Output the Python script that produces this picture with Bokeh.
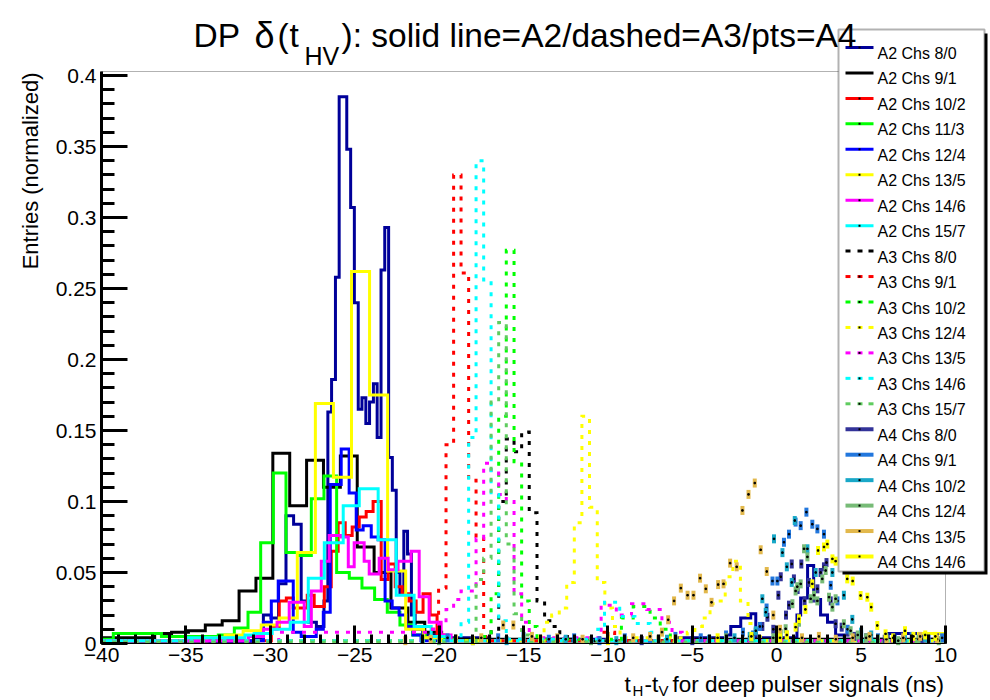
import math
from bokeh.plotting import figure
from bokeh.models import Label, FixedTicker, Range1d, BoxAnnotation
from bokeh.embed import file_html
from bokeh.resources import INLINE

FONT = "Liberation Sans"

# ---------------- axis ticks ----------------
x_ticks = [-40, -35, -30, -25, -20, -15, -10, -5, 0, 5, 10]
x_tick_labels = ["\u221240", "\u221235", "\u221230", "\u221225", "\u221220", "\u221215",
                 "\u221210", "\u22125", "0", "5", "10"]
x_minor_ticks = list(range(-40, 11))
y_ticks = [0, 0.05, 0.1, 0.15, 0.2, 0.25, 0.3, 0.35, 0.4]
y_tick_labels = ["0", "0.05", "0.1", "0.15", "0.2", "0.25", "0.3", "0.35", "0.4"]
y_minor_ticks = [round(0.01 * i, 2) for i in range(41)]
x_axis_range = (-40, 10)
y_axis_range = (0, 0.40282)

# ---------------- A2 histograms (solid) : bin edges (ns) / normalized entries ----------------
a2_8_0_edges = [-40, -30.86, -30.41, -29.96, -29.51, -29.07, -28.62, -28.17, -27.72, -27.27, -26.82,
                -26.59, -26.37, -26.14, -25.92, -25.47, -25.24, -25.02, -24.79, -24.57, -24.34, -24.12,
                -23.89, -23.67, -23.44, -23.22, -22.99, -22.77, -22.54, -22.32, -22.09, -21.87, -21.64,
                -21.42, -20.97, -19.88, -17.0, -14.0, -10.0, -6.0, -3.0, -2.72, -2.13, -1.54, -1.24,
                1.2, 1.42, 1.83, 2.19, 2.6, 3.01, 3.49, 4.0, 6.6, 8.9, 10]
a2_8_0_vals = [0.001, 0.004, 0.02, 0.018, 0.042, 0.09, 0.084, 0.03, 0.015, 0.012, 0.03, 0.163, 0.186,
               0.258, 0.385, 0.348, 0.307, 0.24, 0.165, 0.173, 0.155, 0.17, 0.183, 0.145, 0.263, 0.293,
               0.131, 0.108, 0.05, 0.035, 0.079, 0.063, 0.02, 0.01, 0.006, 0.004, 0.002, 0.003, 0.002,
               0.004, 0.006, 0.012, 0.018, 0.021, 0.004, 0.02, 0.032, 0.055, 0.031, 0.02, 0.015, 0.006,
               0.003, 0.007, 0.003]

a2_9_1_edges = [-40, -36.85, -35.85, -34.85, -33.85, -32.85, -31.85, -30.85, -29.85, -28.85, -27.85,
                -26.85, -25.85, -24.85, -23.85, -22.85, -21.85, -20.85, -19.85, -12.0, -5.0, 10]
a2_9_1_vals = [0.004, 0.007, 0.008, 0.009, 0.013, 0.016, 0.037, 0.046, 0.134, 0.097, 0.129, 0.11,
               0.132, 0.068, 0.05, 0.025, 0.015, 0.008, 0.003, 0.002, 0.003]

a2_10_2_edges = [-40, -29.94, -29.47, -29.05, -28.64, -27.81, -27.4, -26.8, -26.39, -25.98, -25.56,
                 -25.15, -24.73, -24.32, -23.91, -23.43, -23.02, -22.6, -22.19, -21.78, -21.36, -20.95,
                 -20.53, -20.12, -19.7, 10]
a2_10_2_vals = [0.002, 0.012, 0.03, 0.032, 0.025, 0.034, 0.026, 0.04, 0.065, 0.085, 0.076, 0.082,
                0.089, 0.093, 0.1, 0.045, 0.056, 0.04, 0.035, 0.03, 0.022, 0.035, 0.02, 0.006, 0.002]

a2_11_3_edges = [-40, -39.3, -36.45, -33.08, -32.13, -31.32, -30.57, -29.82, -29.07, -28.32, -27.57,
                 -26.82, -26.07, -25.32, -24.57, -23.82, -23.07, -22.32, -21.57, -20.82, -19.0, 10]
a2_11_3_vals = [0.003, 0.007, 0.005, 0.006, 0.011, 0.022, 0.071, 0.12, 0.064, 0.062, 0.102, 0.118,
                0.05, 0.046, 0.039, 0.031, 0.022, 0.013, 0.006, 0.003, 0.002]

a2_12_4_edges = [-40, -30.41, -29.94, -29.53, -28.64, -28.17, -27.28, -26.86, -26.45, -25.8, -25.33,
                 -24.91, -24.5, -24.02, -23.61, -23.2, -22.78, -22.37, -21.95, -21.54, -21.07, 10]
a2_12_4_vals = [0.002, 0.015, 0.03, 0.044, 0.008, 0.005, 0.01, 0.022, 0.112, 0.137, 0.106, 0.08,
                0.083, 0.075, 0.073, 0.03, 0.025, 0.02, 0.012, 0.006, 0.002]

a2_13_5_edges = [-40, -33.75, -32.68, -31.61, -30.54, -29.47, -28.4, -27.33, -26.26, -25.19, -24.12,
                 -23.05, -21.98, -20.91, -19.84, 8.4, 10]
a2_13_5_vals = [0.002, 0.004, 0.006, 0.009, 0.013, 0.018, 0.064, 0.169, 0.117, 0.262, 0.175, 0.051,
                0.01, 0.004, 0.002, 0.007]

a2_14_6_edges = [-40, -31.3, -30.4, -29.6, -28.88, -27.99, -27.57, -26.98, -26.51, -25.8, -25.38,
                 -25.03, -24.44, -24.14, -23.55, -23.02, -22.43, -21.66, -21.18, -20.59, -19.88,
                 -19.29, 10]
a2_14_6_vals = [0.002, 0.005, 0.01, 0.015, 0.029, 0.012, 0.037, 0.058, 0.076, 0.075, 0.054, 0.071,
                0.058, 0.049, 0.06, 0.052, 0.058, 0.065, 0.033, 0.015, 0.006, 0.002]

a2_15_7_edges = [-40, -35.0, -31.5, -30.96, -29.89, -28.82, -27.75, -26.8, -25.68, -24.73, -23.61,
                 -22.54, -21.48, -20.47, -19.4, 10]
a2_15_7_vals = [0.002, 0.004, 0.006, 0.007, 0.01, 0.015, 0.046, 0.071, 0.097, 0.109, 0.073, 0.034,
                0.012, 0.005, 0.002]

# ---------------- A3 histograms (dashed) ----------------
a3_8_0_edges = [-40, -16.92, -16.47, -16.02, -15.56, -15.11, -14.66, -14.2, -13.75, -13.3, -12.85,
                -12.4, 10]
a3_8_0_vals = [0.002, 0.01, 0.1, 0.144, 0.135, 0.149, 0.092, 0.03, 0.016, 0.012, 0.005, 0.002]

a3_9_1_edges = [-40, -20.48, -20.03, -19.59, -19.14, -18.7, -18.25, -17.81, -17.36, -16.92, -10.5,
                -9.6, 10]
a3_9_1_vals = [0.002, 0.01, 0.039, 0.14, 0.33, 0.261, 0.115, 0.074, 0.005, 0.002, 0.008, 0.002]

a3_10_2_edges = [-40, -17.36, -16.92, -16.47, -16.02, -15.56, -15.11, -14.66, -14.2, -9.2, -8.5,
                 -7.5, -6.9, -6.3, 10]
a3_10_2_vals = [0.002, 0.005, 0.035, 0.16, 0.277, 0.128, 0.03, 0.012, 0.003, 0.018, 0.026, 0.018,
                0.01, 0.002]

a3_12_4_edges = [-40, -13.78, -13.33, -12.88, -12.44, -11.99, -11.54, -11.09, -10.63, -10.18, -9.73,
                 -9.28, -5.3, -4.85, -4.4, -3.95, -3.5, -3.05, -2.6, -2.15, -1.7, -1.25, -0.8, 10]
a3_12_4_vals = [0.002, 0.015, 0.02, 0.025, 0.043, 0.085, 0.16, 0.096, 0.043, 0.025, 0.012, 0.004,
                0.008, 0.012, 0.018, 0.028, 0.03, 0.047, 0.058, 0.03, 0.014, 0.005, 0.002]

a3_13_5_edges = [-40, -29.5, -20.48, -20.03, -19.59, -19.14, -18.7, -18.25, -17.81, -17.36, -16.92,
                 -16.47, -16.02, -15.56, -15.11, -14.66, -10.4, -9.5, -8.6, -7.7, -6.8, -6.2, -5.6, 10]
a3_13_5_vals = [0.002, 0.008, 0.01, 0.015, 0.024, 0.031, 0.037, 0.037, 0.074, 0.127, 0.12, 0.105,
                0.1, 0.035, 0.015, 0.004, 0.027, 0.02, 0.028, 0.024, 0.015, 0.008, 0.002]

a3_14_6_edges = [-40, -18.7, -18.25, -17.81, -17.36, -16.92, -16.47, -16.02, -10.6, -10.2, -9.3,
                 -8.4, -7.5, -6.6, 10]
a3_14_6_vals = [0.002, 0.015, 0.145, 0.34, 0.256, 0.105, 0.016, 0.003, 0.01, 0.029, 0.019, 0.014,
                0.008, 0.002]

a3_15_7_edges = [-40, -17.81, -17.36, -16.92, -16.47, -16.02, -15.56, -15.11, -14.66, 10]
a3_15_7_vals = [0.001, 0.045, 0.06, 0.17, 0.226, 0.07, 0.021, 0.006, 0.001]

# ---------------- A4 (points) : time (ns) / normalized entries ----------------
a4_8_0_t = [-8.0, -5.0, -3.0, -1.24, -0.85, -0.55, -0.2, 0.1, 0.24, 0.55, 0.73, 0.89, 1.02, 1.24,
            1.46, 1.65, 1.91, 2.21, 2.41, 2.6, 2.8, 2.95, 3.2, 3.49, 3.85, 4.2, 4.6, 5.3, 6.4, 7.5,
            8.6, 9.5]
a4_8_0_v = [0.002, 0.002, 0.003, 0.008, 0.012, 0.0185, 0.01, 0.034, 0.047, 0.02, 0.027, 0.056,
            0.0455, 0.038, 0.056, 0.03, 0.043, 0.032, 0.0385, 0.05, 0.054, 0.057, 0.03, 0.0139,
            0.0115, 0.008, 0.005, 0.004, 0.003, 0.005, 0.003, 0.004]

a4_9_1_t = [-21.0, -19.5, -18.0, -16.5, -15.0, -13.5, -12.0, -10.5, -9.0, -7.5, -6.0, -4.5, -3.0,
            -2.0, -1.4, -1.0, -0.6, -0.25, 0.04, 0.43, 0.73, 1.12, 1.42, 1.76, 2.11, 2.41, 2.8, 3.2,
            3.6, 4.2, 5.0, 6.0, 7.0, 8.0, 9.0, 9.8]
a4_9_1_v = [0.003, 0.004, 0.002, 0.004, 0.005, 0.003, 0.004, 0.002, 0.004, 0.003, 0.005, 0.004,
            0.006, 0.008, 0.006, 0.012, 0.025, 0.044, 0.044, 0.0713, 0.077, 0.0855, 0.083, 0.0925,
            0.084, 0.0807, 0.077, 0.041, 0.03, 0.01, 0.006, 0.004, 0.003, 0.005, 0.003, 0.004]

a4_10_2_t = [-19.0, -16.0, -12.5, -9.5, -6.5, -4.0, -2.5, -1.6, -1.24, -0.85, -0.65, -0.16, 0.34,
             0.6, 0.89, 1.07, 1.82, 2.31, 3.3, 3.98, 4.48, 5.0, 5.6, 6.5, 7.6, 8.8]
a4_10_2_v = [0.003, 0.002, 0.003, 0.002, 0.003, 0.003, 0.004, 0.005, 0.009, 0.0315, 0.022, 0.0737,
             0.064, 0.054, 0.043, 0.0866, 0.0667, 0.05, 0.05, 0.034, 0.017, 0.008, 0.006, 0.004,
             0.003, 0.004]

a4_12_4_t = [-20.0, -15.0, -11.0, -7.0, -3.0, -1.5, -0.2, 0.24, 0.53, 0.93, 1.12, 1.22, 1.32, 1.42,
             1.62, 1.82, 2.01, 2.21, 2.41, 2.7, 2.9, 3.1, 3.3, 3.49, 3.98, 4.38, 4.8, 5.3, 6.0, 7.2,
             8.4, 9.6]
a4_12_4_v = [0.002, 0.003, 0.002, 0.003, 0.004, 0.003, 0.004, 0.0068, 0.0104, 0.028, 0.037, 0.04,
             0.015, 0.042, 0.0667, 0.061, 0.0315, 0.034, 0.03, 0.0455, 0.0514, 0.0326, 0.0256,
             0.0315, 0.0139, 0.009, 0.006, 0.004, 0.003, 0.002, 0.003, 0.002]

a4_13_5_t = [-22.0, -20.5, -19.0, -17.5, -16.2, -15.6, -14.5, -13.0, -11.5, -10.0, -8.5, -7.5, -6.8,
             -6.43, -6.08, -5.68, -5.28, -4.93, -4.54, -4.2, -3.86, -3.47, -3.15, -2.76, -2.37,
             -2.03, -1.67, -1.3, -0.95, -0.59, -0.2, 0.2, 0.6, 1.5, 2.5, 3.5, 4.5, 5.5, 6.5, 7.5,
             8.5, 9.5]
a4_13_5_v = [0.002, 0.003, 0.003, 0.004, 0.013, 0.013, 0.005, 0.004, 0.003, 0.005, 0.004, 0.005,
             0.008, 0.0167, 0.03, 0.039, 0.034, 0.034, 0.046, 0.0385, 0.029, 0.0415, 0.042, 0.0566,
             0.054, 0.0937, 0.105, 0.113, 0.066, 0.0507, 0.02, 0.01, 0.006, 0.004, 0.005, 0.003,
             0.004, 0.005, 0.003, 0.004, 0.005, 0.003]

a4_14_6_t = [-18.0, -14.0, -10.0, -6.0, -3.5, -1.5, 0.2, 0.6, 1.12, 1.32, 1.7, 2.11, 2.45, 2.8, 3.0,
             3.3, 3.49, 3.79, 4.18, 4.5, 4.97, 5.37, 5.6, 5.96, 6.45, 6.9, 7.6, 8.1, 8.8, 9.4]
a4_14_6_v = [0.002, 0.003, 0.002, 0.003, 0.004, 0.005, 0.004, 0.006, 0.0115, 0.0174, 0.024, 0.042,
             0.0655, 0.068, 0.07, 0.0596, 0.058, 0.056, 0.0455, 0.044, 0.0338, 0.0326, 0.0256,
             0.0127, 0.0068, 0.004, 0.009, 0.005, 0.006, 0.005]

hist_series = [
    ("A2 Chs 8/0", a2_8_0_edges, a2_8_0_vals, "#000099", "solid"),
    ("A2 Chs 9/1", a2_9_1_edges, a2_9_1_vals, "#000000", "solid"),
    ("A2 Chs 10/2", a2_10_2_edges, a2_10_2_vals, "#ff0000", "solid"),
    ("A2 Chs 11/3", a2_11_3_edges, a2_11_3_vals, "#00ff00", "solid"),
    ("A2 Chs 12/4", a2_12_4_edges, a2_12_4_vals, "#0000ff", "solid"),
    ("A2 Chs 13/5", a2_13_5_edges, a2_13_5_vals, "#ffff00", "solid"),
    ("A2 Chs 14/6", a2_14_6_edges, a2_14_6_vals, "#ff00ff", "solid"),
    ("A2 Chs 15/7", a2_15_7_edges, a2_15_7_vals, "#00ffff", "solid"),
    ("A3 Chs 8/0", a3_8_0_edges, a3_8_0_vals, "#000000", "4 7"),
    ("A3 Chs 9/1", a3_9_1_edges, a3_9_1_vals, "#ff0000", "4 7"),
    ("A3 Chs 10/2", a3_10_2_edges, a3_10_2_vals, "#00ff00", "4 7"),
    ("A3 Chs 12/4", a3_12_4_edges, a3_12_4_vals, "#ffff00", "4 7"),
    ("A3 Chs 13/5", a3_13_5_edges, a3_13_5_vals, "#ff00ff", "4 7"),
    ("A3 Chs 14/6", a3_14_6_edges, a3_14_6_vals, "#00ffff", "4 7"),
    ("A3 Chs 15/7", a3_15_7_edges, a3_15_7_vals, "#5fcc5f", "4 7"),
]
point_series = [
    ("A4 Chs 8/0", a4_8_0_t, a4_8_0_v, "#333399"),
    ("A4 Chs 9/1", a4_9_1_t, a4_9_1_v, "#2277dd"),
    ("A4 Chs 10/2", a4_10_2_t, a4_10_2_v, "#19a8c8"),
    ("A4 Chs 12/4", a4_12_4_t, a4_12_4_v, "#77bb77"),
    ("A4 Chs 13/5", a4_13_5_t, a4_13_5_v, "#e2b84c"),
    ("A4 Chs 14/6", a4_14_6_t, a4_14_6_v, "#ffff00"),
]

# ---------------- layout: the plot frame fills the canvas; axes sit at fixed data locations ----------------
W, H = 990, 700            # canvas = whole page
AX_L, AX_R, AX_T, AX_B = 101, 945, 71, 643   # axis box in page pixels
sx = (AX_R - AX_L) / (x_axis_range[1] - x_axis_range[0])
sy = (AX_B - AX_T) / (y_axis_range[1] - y_axis_range[0])
xr = Range1d(x_axis_range[0] - AX_L / sx, x_axis_range[1] + (W - AX_R) / sx)
yr = Range1d(y_axis_range[0] - (H - AX_B) / sy, y_axis_range[1] + AX_T / sy)

p = figure(width=W, height=H, x_range=xr, y_range=yr, output_backend="svg",
           toolbar_location=None, min_border=0)
p.xgrid.visible = False
p.ygrid.visible = False
p.outline_line_color = None
p.background_fill_color = "white"
p.border_fill_color = "white"

for ax in (p.xaxis[0], p.yaxis[0]):
    ax.major_tick_out = 0
    ax.minor_tick_out = 0
    ax.major_tick_line_width = 3
    ax.minor_tick_line_width = 3
    ax.major_tick_line_color = "black"
    ax.minor_tick_line_color = "black"
    ax.major_label_text_font = FONT
    ax.major_label_text_font_size = "21px"
    ax.major_label_text_color = "black"
    ax.axis_line_color = "black"

p.xaxis.fixed_location = y_axis_range[0]
p.xaxis.bounds = x_axis_range
p.xaxis.ticker = FixedTicker(ticks=x_ticks, minor_ticks=x_minor_ticks)
p.xaxis.major_label_overrides = dict(zip(x_ticks, x_tick_labels))
p.xaxis.major_tick_in = 18
p.xaxis.minor_tick_in = 9
p.xaxis.axis_line_width = 1
p.xaxis.major_label_standoff = 4

p.yaxis.fixed_location = x_axis_range[0]
p.yaxis.bounds = y_axis_range
p.yaxis.ticker = FixedTicker(ticks=y_ticks, minor_ticks=y_minor_ticks)
p.yaxis.major_label_overrides = dict(zip(y_ticks, y_tick_labels))
p.yaxis.major_tick_in = 26
p.yaxis.minor_tick_in = 13
p.yaxis.axis_line_width = 3
p.yaxis.major_label_standoff = 5


def steps(edges, vals):
    xs, ys = [], []
    for i, v in enumerate(vals):
        xs += [edges[i], edges[i + 1]]
        ys += [v, v]
    return xs, ys


legend_entries = []
for name, edges, vals, col, dash in hist_series:
    xs, ys = steps(edges, vals)
    p.line(xs, ys, line_color=col, line_width=3, line_dash=dash, line_join="miter")
    legend_entries.append((name, col, "dashed" if dash != "solid" else "solid"))

for name, ts, vs, col in point_series:
    p.rect(ts, vs, width=4, height=9, width_units="screen", height_units="screen",
           fill_color=col, line_color=None)
    p.scatter(ts, vs, marker="square", size=1.5, color="black")
    legend_entries.append((name, col, "points"))

# frame box (top / right borders) around the axis range
p.add_layout(BoxAnnotation(left=x_axis_range[0], right=x_axis_range[1],
                           bottom=y_axis_range[0], top=y_axis_range[1],
                           fill_alpha=0, line_color="black", line_width=1))


def page_to_screen(X, Y):
    return X, H - Y


def sbox(X0, Y0, X1, Y1, fill, line=None, lw=1):
    l, t = page_to_screen(X0, Y0)
    r, b = page_to_screen(X1, Y1)
    p.add_layout(BoxAnnotation(left=l, right=r, top=t, bottom=b, left_units="screen",
                               right_units="screen", top_units="screen", bottom_units="screen",
                               fill_color=fill, fill_alpha=1, line_color=line, line_width=lw))


def lab(text, X, Y, size, align="left", angle=0.0):
    x, y = page_to_screen(X, Y)
    p.add_layout(Label(x=x, y=y, x_units="screen", y_units="screen", level="overlay",
                       text=text, text_font=FONT, text_font_size=size, text_color="black",
                       text_align=align, text_baseline="alphabetic", angle=angle))


# ---------------- legend (ROOT TLegend look: box + shadow, line sample with marker) ----------------
LG_L, LG_T, LG_R, LG_B = 838, 29, 984, 571
sbox(LG_L + 4, LG_T + 4, LG_R + 3, LG_B + 3, "black")            # shadow
sbox(LG_L, LG_T, LG_R, LG_B, "white", line="black", lw=2)        # box
ROW0, ROW_STEP = 47, 25.45
for i, (name, col, kind) in enumerate(legend_entries):
    yc = ROW0 + i * ROW_STEP
    if kind == "solid":
        sbox(845, yc - 1.5, 873, yc + 1.5, col)
    elif kind == "dashed":
        for d0 in (845, 857, 868):
            sbox(d0, yc - 1.5, d0 + 5, yc + 1.5, col)
    else:
        sbox(845, yc - 2, 873, yc + 2, col)
    sbox(858, yc - 1, 860, yc + 1, "black")
    lab(name, 877, yc + 6, "16px")

# ---------------- title and axis titles ----------------
lab("DP", 193, 35, "33.5px")
lab("\u03b4", 254, 35, "36px")
lab("(", 277, 35, "33.5px")
lab("t", 289, 35, "33.5px")
lab("HV", 304, 55, "25px")
lab("): solid line=A2/dashed=A3/pts=A4", 341, 35, "33.5px")

lab("Entries (normalized)", 30, 72, "22px", align="right", angle=math.pi / 2)

lab("t", 624, 684, "22.5px")
lab("H", 632, 690, "15px")
lab("-t", 644, 684, "22.5px")
lab("V", 658, 690, "15px")
lab("for deep pulser signals (ns)", 672, 684, "22.5px")

open("out.html", "w").write(file_html(p, INLINE))
